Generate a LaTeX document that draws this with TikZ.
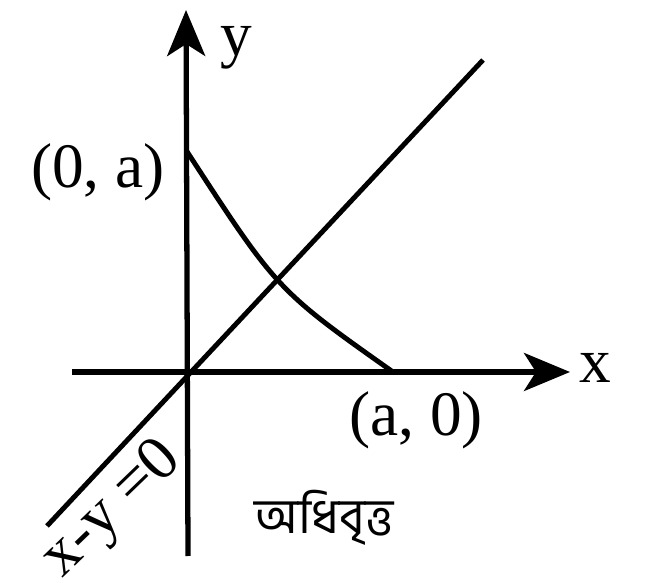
\documentclass[tikz,border=0pt]{standalone}
\usepackage{fontspec}
\setmainfont{Liberation Serif}
\newfontfamily\bengfont[Script=Bengali]{Hind Siliguri}
\usetikzlibrary{arrows.meta}

\begin{document}
\begin{tikzpicture}[
  x=0.01cm,y=-0.01cm,
  axis/.style={line width=1.5pt, -{Stealth[length=4.6mm,width=3.8mm,inset=1.2mm]}},
  curve/.style={line width=1.4pt},
  lbl/.style={inner sep=0pt, font=\fontsize{18}{20}\selectfont}
]
\useasboundingbox (0,0) rectangle (646,583);
\coordinate (O) at (187,372);
\coordinate (ybot) at (188,556);
\coordinate (ytop) at (186,10);
\coordinate (xleft) at (72,372);
\coordinate (xright) at (570,372);
\coordinate (lfrom) at (47,526);
\coordinate (lto) at (483,60);
\coordinate (A0) at (186,150);
\coordinate (A1) at (393,372);
\node[lbl] (ylab) at (236,48) {y};
\node[lbl] (xlab) at (595,368) {x};
\node[lbl] (ya) at (98,172) {(0, a)};
\node[lbl] (xa) at (416,420) {(a, 0)};
\node[lbl, rotate=44] (line) at (113,510) {x-y =0};
\node[lbl, font=\fontsize{14}{17}\bengfont] (para) at (324,518) {অধিবৃত্ত};
\draw[axis] (ybot) -- (ytop);
\draw[axis] (xleft) -- (xright);
\draw[curve] (lfrom) -- (lto);
\draw[curve] (A0) .. controls (277,290) .. (A1);
\end{tikzpicture}
\end{document}
